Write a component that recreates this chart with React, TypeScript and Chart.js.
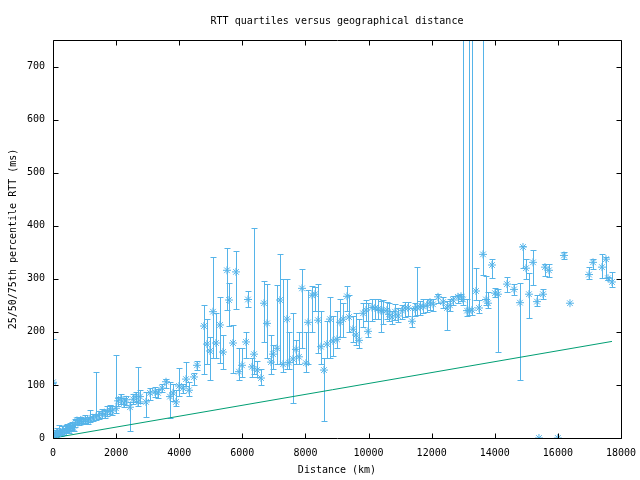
import React, { useEffect, useRef } from "react";
import { Chart, registerables } from "chart.js";

Chart.register(...registerables);

// ---- data ----
const distanceKm = [
  0, 30, 60, 90, 120, 160, 200, 250, 300, 350, 400, 450, 500, 550, 600, 650, 700, 760, 820, 880,
  950, 1020, 1100, 1170, 1260, 1363, 1450, 1550, 1650, 1720, 1800, 1870, 1996, 2060, 2150, 2250, 2320, 2440, 2540, 2630,
  2694, 2757, 2947, 3074, 3232, 3327, 3454, 3581, 3708, 3803, 3898, 3993, 4120, 4215, 4310, 4468, 4563, 4785, 4880, 4975,
  5070, 5165, 5292, 5387, 5514, 5577, 5704, 5799, 5894, 5989, 6116, 6180, 6306, 6370, 6465, 6592, 6687, 6782, 6908, 6972,
  7099, 7194, 7289, 7415, 7479, 7606, 7701, 7796, 7891, 8018, 8081, 8208, 8303, 8398, 8493, 8588, 8683, 8778, 8873, 9000,
  9095, 9190, 9317, 9380, 9507, 9602, 9697, 9824, 9919, 9982, 10109, 10204, 10299, 10394, 10458, 10584, 10648, 10743, 10838, 10933,
  11060, 11155, 11250, 11377, 11472, 11535, 11630, 11725, 11852, 11947, 12042, 12201, 12359, 12486, 12581, 12676, 12834, 12930, 12993, 13120,
  13183, 13278, 13405, 13500, 13627, 13722, 13785, 13912, 14007, 14102, 14387, 14609, 14799, 14894, 14989, 15084, 15211, 15338, 15400, 15528,
  15591, 15718, 16000, 16193, 16383, 16986, 17113, 17397, 17524, 17588, 17714,
];
const medianMs = [
  105, 5, 8, 4, 10, 7, 12, 9, 14, 11, 16, 18, 15, 20, 22, 19, 27, 33, 30, 34,
  31, 35, 32, 36, 38, 40, 42, 46, 44, 50, 53, 51, 56, 70, 74, 66, 72, 58, 73, 78,
  68, 78, 68, 85, 87, 85, 94, 106, 78, 85, 68, 98, 94, 111, 90, 115, 137, 211, 177, 164,
  238, 179, 213, 162, 316, 260, 179, 313, 125, 137, 181, 261, 134, 158, 128, 113, 254, 216, 143, 158,
  169, 260, 139, 224, 142, 149, 167, 153, 282, 141, 218, 269, 271, 222, 172, 128, 177, 224, 183, 186,
  218, 224, 267, 228, 205, 194, 184, 235, 241, 201, 246, 245, 243, 240, 240, 241, 233, 228, 238, 230,
  240, 245, 245, 220, 243, 247, 247, 248, 250, 256, 252, 266, 256, 245, 250, 260, 266, 267, 261, 240,
  240, 241, 277, 245, 346, 261, 254, 326, 273, 271, 290, 280, 255, 360, 320, 271, 331, 257, 0, 271,
  322, 316, 0, 344, 254, 308, 331, 322, 337, 301, 294,
];
const q25Ms = [
  103, 2, 3, 1, 5, 3, 6, 4, 8, 6, 10, 12, 10, 14, 15, 13, 20, 27, 25, 28,
  26, 29, 27, 30, 32, 34, 36, 38, 38, 42, 45, 44, 48, 60, 64, 58, 62, 14, 64, 68,
  60, 66, 40, 72, 78, 76, 86, 95, 38, 70, 60, 80, 85, 98, 80, 100, 128, 120, 140, 109,
  150, 150, 141, 130, 241, 211, 123, 243, 110, 115, 150, 246, 115, 120, 115, 100, 180, 150, 120, 130,
  140, 140, 125, 130, 130, 66, 140, 140, 170, 125, 140, 200, 240, 160, 140, 32, 150, 150, 155, 170,
  190, 190, 240, 200, 180, 175, 170, 210, 220, 190, 220, 225, 225, 200, 215, 225, 220, 215, 222, 218,
  225, 228, 230, 210, 230, 232, 232, 235, 238, 242, 240, 255, 245, 203, 240, 250, 255, 258, 250, 230,
  232, 232, 260, 235, 307, 250, 245, 302, 265, 162, 275, 270, 109, 320, 299, 226, 288, 248, 0, 262,
  305, 304, 0, 338, 254, 300, 318, 301, 302, 298, 285,
];
const q75Ms = [
  186, 12, 15, 10, 18, 14, 24, 17, 22, 18, 25, 26, 24, 28, 30, 27, 36, 40, 37, 40,
  38, 43, 40, 53, 46, 125, 50, 54, 52, 60, 62, 60, 156, 78, 82, 76, 80, 68, 82, 86,
  134, 90, 87, 94, 96, 92, 102, 112, 106, 102, 90, 132, 102, 144, 105, 122, 146, 250, 225, 190,
  341, 235, 265, 195, 358, 292, 213, 352, 170, 170, 200, 277, 150, 395, 145, 130, 295, 290, 195, 175,
  288, 346, 300, 300, 200, 235, 185, 200, 318, 200, 278, 286, 285, 290, 240, 150, 220, 265, 230, 240,
  262, 255, 287, 270, 230, 235, 225, 255, 260, 255, 262, 262, 262, 258, 260, 256, 255, 240, 252, 245,
  250, 256, 256, 245, 255, 322, 258, 262, 262, 262, 262, 272, 265, 258, 262, 268, 270, 272, 900, 262,
  900, 900, 321, 260, 900, 305, 275, 338, 282, 280, 303, 290, 292, 362, 338, 310, 355, 269, 0, 280,
  328, 328, 0, 350, 254, 322, 337, 346, 341, 304, 313,
];
const fitDistanceKm = [0, 17714];
const fitMs = [0, 182];

const TITLE = "RTT quartiles versus geographical distance";
const X_TITLE = "Distance (km)";
const Y_TITLE = "25/50/75th percentile RTT (ms)";
const X_MIN = 0;
const X_MAX = 18000;
const X_STEP = 2000;
const Y_MIN = 0;
const Y_MAX = 750;
const Y_STEP = 100;

const BLUE = "#56b4e9";
const GREEN = "#009e73";
const FONT = "'DejaVu Sans Mono', 'Liberation Mono', monospace";

const errorBarPlugin = {
  id: "errorBars",
  beforeDatasetsDraw(chart: any) {
    const { ctx, chartArea, scales } = chart;
    const xs = scales.x;
    const ys = scales.y;
    ctx.save();
    ctx.beginPath();
    ctx.rect(chartArea.left, chartArea.top, chartArea.right - chartArea.left, chartArea.bottom - chartArea.top);
    ctx.clip();
    ctx.strokeStyle = BLUE;
    ctx.lineWidth = 1;
    ctx.beginPath();
    for (let i = 0; i < distanceKm.length; i++) {
      if (q75Ms[i] === q25Ms[i]) continue;
      const x = Math.round(xs.getPixelForValue(distanceKm[i])) + 0.5;
      const yLo = Math.round(ys.getPixelForValue(q25Ms[i])) + 0.5;
      const yHi = Math.round(ys.getPixelForValue(q75Ms[i])) + 0.5;
      ctx.moveTo(x, yLo);
      ctx.lineTo(x, yHi);
      ctx.moveTo(x - 3, yLo);
      ctx.lineTo(x + 3, yLo);
      ctx.moveTo(x - 3, yHi);
      ctx.lineTo(x + 3, yHi);
    }
    ctx.stroke();
    ctx.restore();
  },
};

const framePlugin = {
  id: "frame",
  afterDraw(chart: any) {
    const { ctx, chartArea, scales } = chart;
    const { left, right, top, bottom } = chartArea;
    const L = Math.round(left) + 0.5;
    const R = Math.round(right) + 0.5;
    const T = Math.round(top) + 0.5;
    const B = Math.round(bottom) + 0.5;
    const len = 5;
    ctx.save();
    ctx.strokeStyle = "#000";
    ctx.lineWidth = 1;
    ctx.beginPath();
    ctx.rect(L, T, R - L, B - T);
    for (const t of scales.x.ticks) {
      const x = Math.round(scales.x.getPixelForValue(t.value)) + 0.5;
      ctx.moveTo(x, B);
      ctx.lineTo(x, B - len);
      ctx.moveTo(x, T);
      ctx.lineTo(x, T + len);
    }
    for (const t of scales.y.ticks) {
      const y = Math.round(scales.y.getPixelForValue(t.value)) + 0.5;
      ctx.moveTo(L, y);
      ctx.lineTo(L + len, y);
      ctx.moveTo(R, y);
      ctx.lineTo(R - len, y);
    }
    ctx.stroke();
    ctx.restore();
  },
};

export default function App() {
  const canvasRef = useRef<HTMLCanvasElement | null>(null);

  useEffect(() => {
    const canvas = canvasRef.current;
    if (!canvas) return;
    Chart.defaults.font.family = FONT;
    Chart.defaults.font.size = 10;
    Chart.defaults.color = "#000";

    const medianPoints = distanceKm.map((d, i) => ({ x: d, y: medianMs[i] }));
    const fitPoints = fitDistanceKm.map((d, i) => ({ x: d, y: fitMs[i] }));

    const chart = new Chart(canvas, {
      type: "scatter",
      data: {
        datasets: [
          {
            type: "line",
            label: "fit",
            data: fitPoints,
            borderColor: GREEN,
            borderWidth: 1,
            pointRadius: 0,
            fill: false,
            tension: 0,
            order: 2,
          },
          {
            type: "scatter",
            label: "median",
            data: medianPoints,
            pointStyle: "star",
            pointRadius: 4,
            borderColor: BLUE,
            backgroundColor: BLUE,
            borderWidth: 1,
            order: 1,
          },
        ],
      },
      options: {
        responsive: false,
        animation: false,
        devicePixelRatio: 1,
        events: [],
        layout: { padding: { left: 0, right: 19, top: 0, bottom: 0 } },
        plugins: {
          legend: { display: false },
          tooltip: { enabled: false },
          title: {
            display: true,
            fullSize: false,
            text: TITLE,
            color: "#000",
            font: { family: FONT, size: 10, weight: "normal" },
            padding: { top: 15, bottom: 13 },
          },
        },
        scales: {
          x: {
            type: "linear",
            min: X_MIN,
            max: X_MAX,
            grid: { display: false, drawTicks: false },
            border: { display: false },
            ticks: {
              stepSize: X_STEP,
              padding: 9,
              color: "#000",
              font: { family: FONT, size: 10 },
              maxRotation: 0,
              callback: (v: any) => String(v),
            },
            title: {
              display: true,
              text: X_TITLE,
              color: "#000",
              font: { family: FONT, size: 10 },
              padding: { top: 0, bottom: 4 },
            },
            afterFit: (s: any) => {
              s.height = 42;
              s.paddingLeft = 0;
              s.paddingRight = 0;
            },
          },
          y: {
            type: "linear",
            min: Y_MIN,
            max: Y_MAX,
            grid: { display: false, drawTicks: false },
            border: { display: false },
            ticks: {
              stepSize: Y_STEP,
              includeBounds: false,
              padding: 8,
              color: "#000",
              font: { family: FONT, size: 10 },
              callback: (v: any) => String(v),
            },
            title: {
              display: true,
              text: Y_TITLE,
              color: "#000",
              font: { family: FONT, size: 10 },
              padding: { top: 7, bottom: 0 },
            },
            afterFit: (s: any) => {
              s.width = 53;
              s.paddingTop = 0;
              s.paddingBottom = 0;
            },
          },
        },
      },
      plugins: [errorBarPlugin, framePlugin],
    } as any);

    return () => chart.destroy();
  }, []);

  return (
    <div style={{ position: "fixed", left: 0, top: 0, width: 640, height: 480, background: "#fff" }}>
      <canvas ref={canvasRef} width={640} height={480} style={{ display: "block", width: 640, height: 480 }} />
    </div>
  );
}
